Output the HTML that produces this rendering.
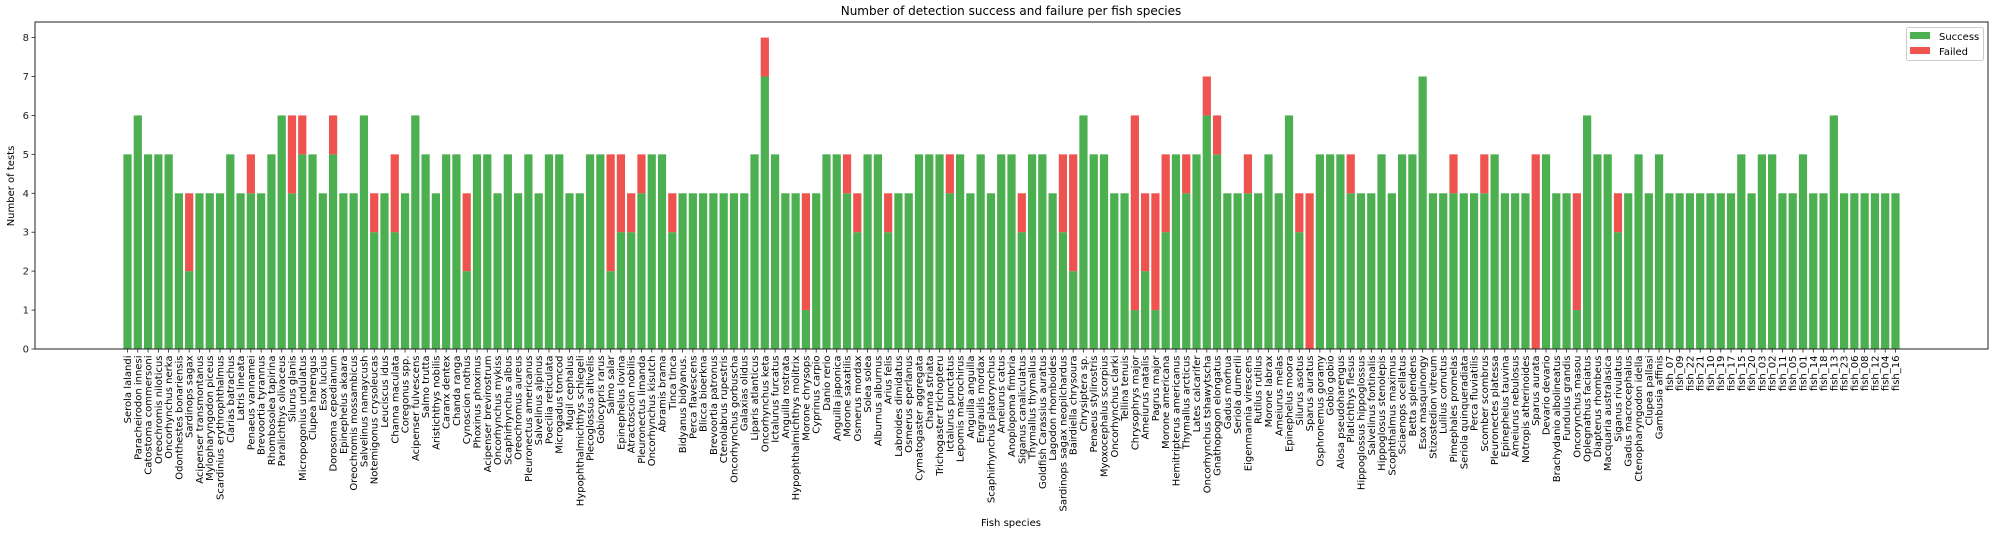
<!DOCTYPE html>
<html><head><meta charset="utf-8">
<style>
html,body{margin:0;padding:0;background:#fff;}
svg{display:block;font-family:"DejaVu Sans","Liberation Sans",sans-serif;}
</style></head>
<body>
<svg id="chart" width="1998" height="533" viewBox="0 0 1998 533">
<text x="1011" y="15" font-size="12" text-anchor="middle" fill="#000">Number of detection success and failure per fish species</text>
<text x="1011" y="526" font-size="10" text-anchor="middle" fill="#000">Fish species</text>
<text transform="translate(14,186) rotate(-90)" font-size="10" text-anchor="middle" fill="#000">Number of tests</text>
<g id="bars"></g>
<g id="xticks"></g>
<g id="yticks"></g>
<rect x="35" y="22" width="1953" height="327" fill="none" stroke="#222" stroke-width="1"/>
<g>
<rect x="1906.5" y="27.5" width="77" height="33" rx="2" fill="#fff" fill-opacity="0.8" stroke="#ccc"/>
<rect x="1910" y="32" width="20" height="7" fill="#4caf50"/>
<text x="1939" y="40" font-size="10" fill="#000">Success</text>
<rect x="1910" y="47" width="20" height="7" fill="#ef5350"/>
<text x="1939" y="55" font-size="10" fill="#000">Failed</text>
</g>
</svg>
<script>
const species = ["Serola lalandi","Paracheirodon innesi","Catostoma commersoni","Oreochromis niloticus","Oncorhynchus nerka","Odonthestes bonariensis","Sardinops sagax","Acipenser transmontanus","Mylopharyngodon piceus","Scardinius erythrophthalmus","Clarias batrachus","Latris lineata","Penaeus vannamei","Brevoortia tyrannus","Rhombosolea tapirina","Paralichthys olivaceus","Silurus glanis","Micropogonius undulatus","Clupea harengus","Esox lucius","Dorosoma cepedianum","Epinephelus akaara","Oreochromis mossambicus","Salvelinus namaycush","Notemigonus crysoleucas","Leuciscus idus",
"Channa maculata","Coregonus spp.","Acipenser fulvescens","Salmo trutta","Aristichthys nobilis","Caranx dentex","Chanda ranga","Cynoscion nothus","Phoxinus phoxinus","Acipenser brevirostrum","Oncorhynchus mykiss","Scaphirhynchus albus","Oreochromus aureus","Pleuronectus americanus","Salvelinus alpinus","Poecilia reticulata","Microgadus tomcod","Mugil cephalus","Hypophthalmichthys schlegeli","Plecoglossus altivelis","Gobiocypris rarus","Salmo salar","Epinephelus lovina","Atractoscion nobilis","Pleuronectus limanda","Oncorhynchus kisutch","Abramis brama","Tinca tinca","Bidyanus bidyanus.","Perca flavescens","Blicca bioerkna",
"Brevoortia patronus","Ctenolabrus rupestris","Oncorhynchus gorbuscha","Galaxias olidus","Liparis atlanticus","Oncorhynchus keta","Ictalurus furcatus","Anguilla rostrata","Hypophthalmichthys molitrix","Morone chrysops","Cyprinus carpio","Danio rerio","Anguilla japonica","Morone saxatilis","Osmerus mordax","Solea solea","Alburnus alburnus","Arius felis","Labroides dimidatus","Osmerus eperlanus","Cymatogaster aggregata","Channa striata","Trichogaster trichopteru","Ictalurus punctatus","Lepomis macrochirus","Anguilla anguilla","Engraulis mordax","Scaphirhynchus platorynchus","Ameiurus catus","Anoplopoma fimbria","Siganus canaliculatus",
"Thymallus thymallus","Goldfish Carassius auratus","Lagodon rhomboides","Sardinops sagax neopilchardus","Bairdiella chrysoura","Chrysiptera sp.","Penaeus stylirostris","Myoxocephalus scorpius","Oncorhynchus clarki","Tellina tenuis","Chrysophrys major","Ameiurus natalis","Pagrus major","Morone americana","Hemitripterus americanus","Thymallus arcticus","Lates calcarifer","Oncorhynchus tshawytscha","Gnathopogon elongatus","Gadus morhua","Seriola dumerili","Eigenmannia virescens","Rutilus rutilus","Morone labrax","Ameiurus melas","Epinephelus moora","Silurus asotus","Sparus auratus","Osphronemus goramy","Gobio gobio","Alosa pseudoharengus","Platichthys flesus",
"Hippoglossus hippoglossus","Salvelinus fontinalis","Hippoglosus stenolepis","Scophthalmus maximus","Sciaenops ocellatus","Betta splendens","Esox masquinongy","Stizostedion vitreum","Lulilus cornutus","Pimephales promelas","Seriola quinqueradiata","Perca fluviatilis","Scomber scombrus","Pleuronectes platessa","Epinephelus tauvina","Ameiurus nebulosus","Notropis atherinoides","Sparus aurata","Devario devario","Brachydanio albolineatus","Fundulus grandis","Oncorynchus masou","Oplegnathus faciatus","Diapterus rhombeus","Macquaria australasica","Siganus rivulatus","Gadus macrocephalus","Ctenopharyngodon idella","Clupea pallasi","Gambusia affinis",
"fish_07","fish_09","fish_22","fish_21","fish_10","fish_19","fish_17","fish_15","fish_20","fish_03","fish_02","fish_11","fish_05","fish_01","fish_14","fish_18","fish_13","fish_23","fish_06","fish_08","fish_12","fish_04","fish_16"];
const success = [5,6,5,5,5,4,2,4,4,4,5,4,4,4,5,6,4,5,5,4,5,4,4,6,3,4,
3,4,6,5,4,5,5,2,5,5,4,5,4,5,4,5,5,4,4,5,5,2,3,3,4,5,5,3,4,4,4,
4,4,4,4,5,7,5,4,4,1,4,5,5,4,3,5,5,3,4,4,5,5,5,4,5,4,5,4,5,5,3,
5,5,4,3,2,6,5,5,4,4,1,2,1,3,5,4,5,6,5,4,4,4,4,5,4,6,3,0,5,5,5,4,
4,4,5,4,5,5,7,4,4,4,4,4,4,5,4,4,4,0,5,4,4,1,6,5,5,3,4,5,4,5,
4,4,4,4,4,4,4,5,4,5,5,4,4,5,4,4,6,4,4,4,4,4,4];
const failed = [0,0,0,0,0,0,2,0,0,0,0,0,1,0,0,0,2,1,0,0,1,0,0,0,1,0,
2,0,0,0,0,0,0,2,0,0,0,0,0,0,0,0,0,0,0,0,0,3,2,1,1,0,0,1,0,0,0,
0,0,0,0,0,1,0,0,0,3,0,0,0,1,1,0,0,1,0,0,0,0,0,1,0,0,0,0,0,0,1,
0,0,0,2,3,0,0,0,0,0,5,2,3,2,0,1,0,1,1,0,0,1,0,0,0,0,1,4,0,0,0,1,
0,0,0,0,0,0,0,0,0,1,0,0,1,0,0,0,0,5,0,0,0,3,0,0,0,1,0,0,0,0,
0,0,0,0,0,0,0,0,0,0,0,0,0,0,0,0,0,0,0,0,0,0,0];
const yTicks = [0,1,2,3,4,5,6,7,8];

const NS = "http://www.w3.org/2000/svg";
const L = 35, R = 1988, T = 22, B = 349;
const n = species.length;
const pad = 9;
const pitch = (R - L) / (n - 1 + 2 * pad);
const yMax = 8.4;
function xPos(i){ return L + (i + pad) * pitch; }
function yPos(v){ return B - v * (B - T) / yMax; }
const bw = pitch * 0.8;

const gb = document.getElementById('bars');
const gx = document.getElementById('xticks');
const gy = document.getElementById('yticks');
function mk(tag, attrs){ const e = document.createElementNS(NS, tag); for (const k in attrs) e.setAttribute(k, attrs[k]); return e; }

for (let i = 0; i < n; i++) {
  const cx = xPos(i);
  const s = mk('rect', {x: cx - bw/2, y: yPos(success[i]), width: bw, height: yPos(0) - yPos(success[i]), fill: '#4caf50'});
  
  
  gb.appendChild(s);
  if (failed[i] > 0) {
    const f = mk('rect', {x: cx - bw/2, y: yPos(success[i] + failed[i]), width: bw, height: yPos(success[i]) - yPos(success[i] + failed[i]), fill: '#ef5350'});
    
    
    gb.appendChild(f);
  }
  const tk = mk('line', {x1: cx, x2: cx, y1: B, y2: B + 3.5, stroke: '#222', 'stroke-width': 0.8});
  
  
  gx.appendChild(tk);
  const t = mk('text', {transform: 'translate(' + (cx + 3.5) + ',' + (B + 6.5) + ') rotate(-90)', 'font-size': 10, 'text-anchor': 'end', fill: '#000'});
  
  
  t.textContent = species[i];
  gx.appendChild(t);
}
yTicks.forEach(v => {
  const y = yPos(v);
  const tk = mk('line', {x1: L - 3.5, x2: L, y1: y, y2: y, stroke: '#222', 'stroke-width': 0.8});
  
  
  gy.appendChild(tk);
  const t = mk('text', {x: L - 6, y: y + 3.5, 'font-size': 10, 'text-anchor': 'end', fill: '#222'});
  
  
  t.textContent = v;
  gy.appendChild(t);
});
</script>
</body></html>
